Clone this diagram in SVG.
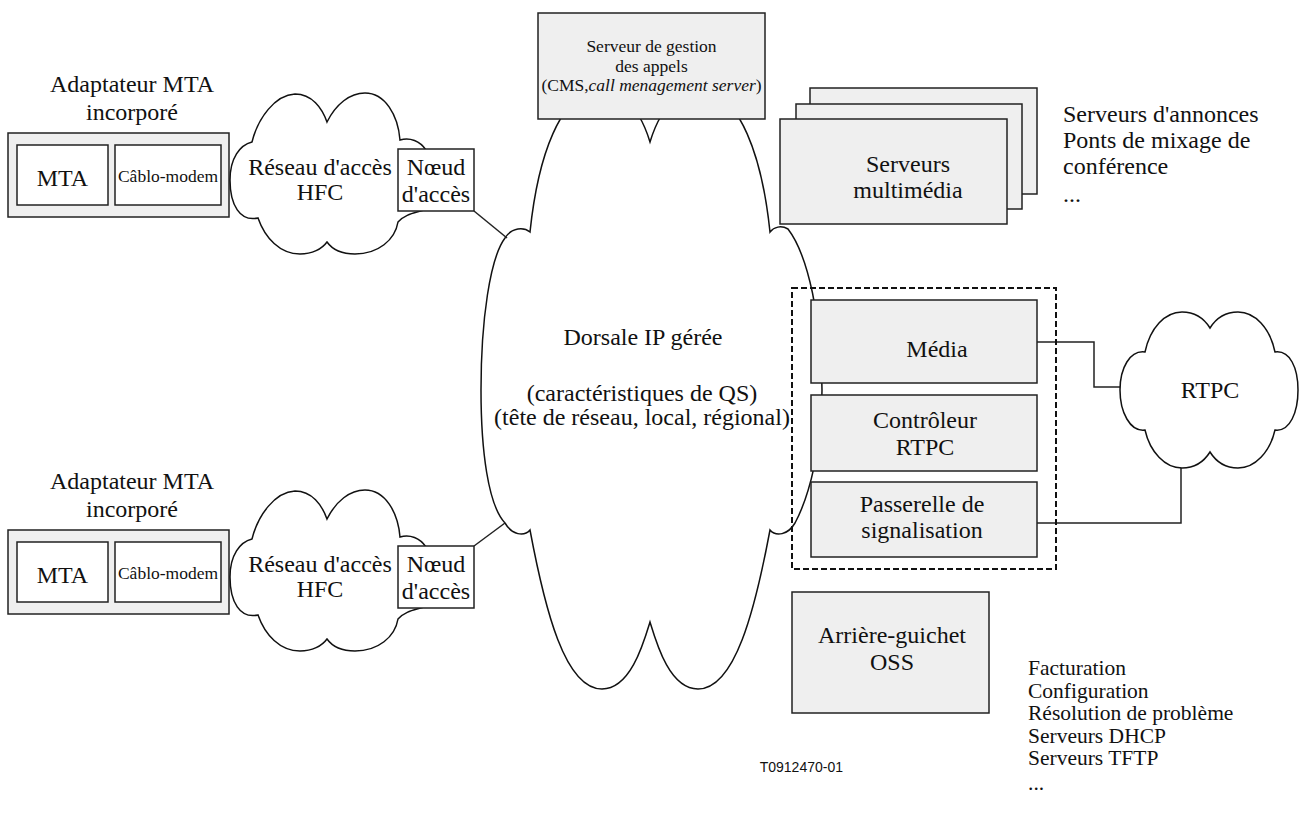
<svg xmlns="http://www.w3.org/2000/svg" width="1302" height="818" viewBox="0 0 1302 818">
<style>
text{font-family:"Liberation Serif","Times New Roman",serif;fill:#111;}
.t24{font-size:24px;}
.t22{font-size:21.5px;}
.t17{font-size:17.5px;}
.c{text-anchor:middle;}
.box{fill:#efefef;stroke:#222;stroke-width:1.5;}
.wbox{fill:#fff;stroke:#222;stroke-width:1.5;}
.cloud{fill:#fff;stroke:#111;stroke-width:1.5;}
.ln{fill:none;stroke:#222;stroke-width:1.5;}
</style>
<defs>
<path id="hfc" d="M 252,142 C 258,118 275,95 295,94 C 312,94 322,108 327,122 C 336,104 350,93 365,93 C 385,93 398,115 400,140 C 410,137 420,141 426,150 C 438,170 436,200 424,210 C 415,213 405,214 398,222 C 395,240 378,254 355,254 C 342,254 332,249 327,242 C 322,249 312,254 300,254 C 280,254 265,238 258,218 C 240,222 230,205 230,180 C 230,158 240,145 252,142 Z"/>
</defs>
<g id="backbone">
<path class="cloud" d="M 530,232 C 548,60 625,60 650,142 C 675,60 752,60 770,232 C 774,227 781,225 788,229 C 808,255 822,320 822,390 C 822,445 810,495 795,523 C 788,535 776,537 770,530 C 755,610 735,689 698,689 C 670,689 657,645 650,622 C 643,645 630,689 602,689 C 565,689 545,610 530,530 C 524,537 512,535 505,523 C 488,505 481,450 481,390 C 481,320 490,258 505,238 C 512,227 524,227 530,232 Z"/>
<text class="t24 c" x="643" y="345">Dorsale IP gérée</text>
<text class="t24 c" x="642" y="401">(caractéristiques de QS)</text>
<text class="t24 c" x="642" y="425">(tête de réseau, local, régional)</text>
</g>
<g id="connectors">
<path class="ln" d="M 474,211 L 507,238"/>
<path class="ln" d="M 474,546 L 505,523"/>
<path class="ln" d="M 1037,342 H 1094 V 387 H 1120"/>
<path class="ln" d="M 1037,523 H 1181 V 468"/>
</g>
<g id="mta-top">
<text class="t24 c" x="132" y="92">Adaptateur MTA</text>
<text class="t24 c" x="132" y="120">incorporé</text>
<rect class="box" x="8" y="133" width="221" height="84"/>
<rect class="wbox" x="17" y="145" width="91" height="60"/>
<text class="t24 c" x="62.5" y="186">MTA</text>
<rect class="wbox" x="115" y="145" width="106" height="60"/>
<text class="t17 c" x="168" y="182">Câblo-modem</text>
</g>
<g id="hfc-top">
<use href="#hfc" class="cloud"/>
<text class="t24 c" x="320" y="175">Réseau d'accès</text>
<text class="t24 c" x="320" y="200">HFC</text>
</g>
<g id="noeud-top">
<rect class="wbox" x="398" y="149" width="76" height="62"/>
<text class="t24 c" x="436" y="175">Nœud</text>
<text class="t24 c" x="436" y="202">d'accès</text>
</g>
<g id="mta-bottom" transform="translate(0,397)">
<text class="t24 c" x="132" y="92">Adaptateur MTA</text>
<text class="t24 c" x="132" y="120">incorporé</text>
<rect class="box" x="8" y="133" width="221" height="84"/>
<rect class="wbox" x="17" y="145" width="91" height="60"/>
<text class="t24 c" x="62.5" y="186">MTA</text>
<rect class="wbox" x="115" y="145" width="106" height="60"/>
<text class="t17 c" x="168" y="182">Câblo-modem</text>
</g>
<g id="hfc-bottom" transform="translate(0,397)">
<use href="#hfc" class="cloud"/>
<text class="t24 c" x="320" y="175">Réseau d'accès</text>
<text class="t24 c" x="320" y="200">HFC</text>
</g>
<g id="noeud-bottom" transform="translate(0,397)">
<rect class="wbox" x="398" y="149" width="76" height="62"/>
<text class="t24 c" x="436" y="175">Nœud</text>
<text class="t24 c" x="436" y="202">d'accès</text>
</g>
<g id="cms">
<rect class="box" x="538" y="13" width="227" height="106"/>
<text class="t17 c" x="651.5" y="52">Serveur de gestion</text>
<text class="t17 c" x="651.5" y="72">des appels</text>
<text class="t17 c" x="651.5" y="91">(CMS,<tspan font-style="italic">call menagement server</tspan>)</text>
</g>
<g id="multimedia">
<rect class="box" x="810" y="88" width="227" height="106"/>
<rect class="box" x="796" y="104" width="226" height="105"/>
<rect class="box" x="780" y="119" width="227" height="105"/>
<text class="t24 c" x="908" y="172">Serveurs</text>
<text class="t24 c" x="908" y="198">multimédia</text>
</g>
<g id="mm-list">
<text class="t24" x="1063" y="122">Serveurs d'annonces</text>
<text class="t24" x="1063" y="148">Ponts de mixage de</text>
<text class="t24" x="1063" y="174">conférence</text>
<text class="t24" x="1063" y="202">...</text>
</g>
<g id="gateway-group">
<rect x="792" y="288" width="264" height="281" fill="none" stroke="#111" stroke-width="2" stroke-dasharray="6,3"/>
</g>
<g id="media">
<rect class="box" x="811" y="300" width="226" height="83"/>
<text class="t24 c" x="937" y="357">Média</text>
</g>
<g id="controleur">
<rect class="box" x="811" y="395" width="226" height="76"/>
<text class="t24 c" x="925" y="428">Contrôleur</text>
<text class="t24 c" x="925" y="455">RTPC</text>
</g>
<g id="passerelle">
<rect class="box" x="811" y="482" width="226" height="75"/>
<text class="t24 c" x="922" y="512">Passerelle de</text>
<text class="t24 c" x="922" y="538">signalisation</text>
</g>
<g id="rtpc">
<path class="cloud" d="M 1145,352 C 1150,328 1165,312 1182,312 C 1196,312 1205,320 1210,328 C 1215,320 1224,312 1238,312 C 1255,312 1270,328 1275,352 C 1290,350 1298,368 1298,390 C 1298,412 1290,432 1275,430 C 1270,452 1255,468 1238,468 C 1224,468 1215,460 1210,452 C 1205,460 1196,468 1182,468 C 1165,468 1150,452 1145,430 C 1130,432 1120,412 1120,390 C 1120,368 1130,350 1145,352 Z"/>
<text class="t24 c" x="1210" y="398">RTPC</text>
</g>
<g id="oss">
<rect class="box" x="792" y="592" width="197" height="121"/>
<text class="t24 c" x="892" y="643">Arrière-guichet</text>
<text class="t24 c" x="892" y="670">OSS</text>
</g>
<g id="oss-list">
<text class="t22" x="1028" y="675">Facturation</text>
<text class="t22" x="1028" y="697.5">Configuration</text>
<text class="t22" x="1028" y="720">Résolution de problème</text>
<text class="t22" x="1028" y="742.5">Serveurs DHCP</text>
<text class="t22" x="1028" y="765">Serveurs TFTP</text>
<text class="t22" x="1028" y="790">...</text>
</g>
<text x="843" y="772" style="font-family:'Liberation Sans',Arial,sans-serif;font-size:14px;text-anchor:end">T0912470-01</text>
</svg>
